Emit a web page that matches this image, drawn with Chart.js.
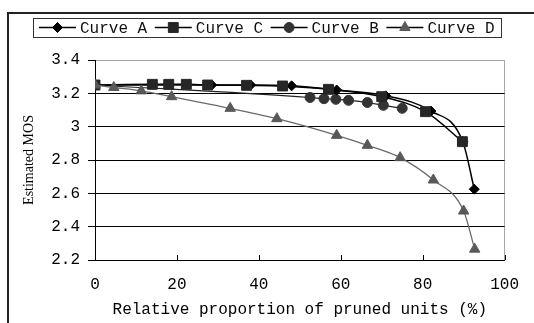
<!DOCTYPE html>
<html><head><meta charset="utf-8">
<script src="https://cdn.jsdelivr.net/npm/chart.js@4/dist/chart.umd.min.js"></script>
<style>
html,body{margin:0;padding:0;background:#fff;}
#wrap{position:relative;width:534px;height:323px;overflow:hidden;background:#fff;}
#frame{position:absolute;left:7px;top:12px;width:700px;height:500px;border-left:2px solid #222;border-top:2px solid #222;}
canvas{position:absolute;left:0;top:0;}
</style></head><body>
<div id="wrap"><div id="frame"></div><canvas id="c" width="534" height="323"></canvas></div>
<script>
// ---- data ----
const seriesNames = ['Curve A', 'Curve C', 'Curve B', 'Curve D'];
const curveAX = [0, 28.5, 38, 48, 59, 71, 82, 89.8, 92.6];
const curveAY = [3.25, 3.25, 3.25, 3.245, 3.22, 3.185, 3.094, 2.91, 2.625];
const curveCX = [0, 14, 18, 22.3, 27.5, 37, 45.8, 57, 70, 80.7, 89.7];
const curveCY = [3.25, 3.254, 3.254, 3.254, 3.25, 3.248, 3.244, 3.224, 3.18, 3.09, 2.91];
const curveBX = [0, 52.5, 55.9, 58.8, 61.9, 66.5, 70.4, 75.0];
const curveBY = [3.25, 3.175, 3.168, 3.164, 3.158, 3.145, 3.128, 3.11];
const curveDX = [0, 4.6, 11.3, 18.7, 33, 44.4, 59, 66.5, 74.5, 82.6, 90, 92.7];
const curveDY = [3.25, 3.235, 3.215, 3.18, 3.11, 3.048, 2.948, 2.888, 2.814, 2.68, 2.494, 2.265];
const xTicks = [0, 20, 40, 60, 80, 100];
const yTicks = [2.2, 2.4, 2.6, 2.8, 3, 3.2, 3.4];
const xTitle = 'Relative proportion of pruned units (%)';
const yTitle = 'Estimated MOS';

function pts(xs, ys) { return xs.map((x, i) => ({ x: x, y: ys[i] })); }

const MONO = '"Liberation Mono", "DejaVu Sans Mono", monospace';

const datasets = [
  { label: seriesNames[0], data: pts(curveAX, curveAY), borderColor: '#000', backgroundColor: '#000',
    pointStyle: 'rectRot', pointRadius: 5, borderWidth: 1.5, order: 2 },
  { label: seriesNames[1], data: pts(curveCX, curveCY), borderColor: '#000', backgroundColor: '#262626',
    pointBorderColor: '#262626', pointStyle: 'rect', pointRadius: 7, borderWidth: 1.5, order: 1 },
  { label: seriesNames[2], data: pts(curveBX, curveBY), borderColor: '#222', backgroundColor: '#333',
    pointBorderColor: '#333', pointStyle: 'circle', pointRadius: 5, borderWidth: 1.2, order: 3 },
  { label: seriesNames[3], data: pts(curveDX, curveDY), borderColor: '#6a6a6a', backgroundColor: '#595959',
    pointBorderColor: '#595959', pointStyle: 'triangle', pointRadius: 6, borderWidth: 1.3, order: 0 }
];
datasets.forEach(d => { d.cubicInterpolationMode = 'monotone'; d.pointBorderWidth = 1; d.fill = false; });

const decor = {
  id: 'decor',
  afterDraw(chart) {
    const ctx = chart.ctx, xs = chart.scales.x, area = chart.chartArea;
    ctx.save();
    // inward tick marks on x axis
    ctx.strokeStyle = '#000'; ctx.lineWidth = 1;
    xs.ticks.forEach(t => {
      if (t.value === xs.min) return;
      const px = Math.round(xs.getPixelForValue(t.value)) + 0.5;
      ctx.beginPath(); ctx.moveTo(px, area.bottom); ctx.lineTo(px, area.bottom - 5); ctx.stroke();
    });
    // legend box
    const bx = 33, by = 18, bw = 468, bh = 19, cy = 27.5, pitch = 115.8;
    ctx.strokeStyle = '#333'; ctx.lineWidth = 1;
    ctx.strokeRect(bx + 0.5, by + 0.5, bw, bh);
    chart.data.datasets.forEach((d, i) => {
      const x0 = 39 + i * pitch;
      ctx.strokeStyle = '#000'; ctx.lineWidth = 1.3;
      ctx.beginPath(); ctx.moveTo(x0, cy); ctx.lineTo(x0 + 37, cy); ctx.stroke();
      ctx.fillStyle = d.backgroundColor; ctx.strokeStyle = d.pointBorderColor || d.borderColor; ctx.lineWidth = 1;
      Chart.helpers.drawPoint(ctx, { pointStyle: d.pointStyle, radius: d.pointRadius, rotation: 0, borderWidth: 1 }, x0 + 18.5, cy);
      ctx.fillStyle = '#111'; ctx.font = '16px ' + MONO; ctx.textBaseline = 'middle'; ctx.textAlign = 'left';
      ctx.fillText(d.label, x0 + 41, cy + 1);
    });
    ctx.restore();
  }
};

new Chart(document.getElementById('c'), {
  type: 'line',
  data: { datasets: datasets },
  options: {
    responsive: false, animation: false, devicePixelRatio: 1,
    layout: { padding: { top: 60, left: 0, right: 24, bottom: 0 } },
    plugins: { legend: { display: false }, tooltip: { enabled: false } },
    scales: {
      x: {
        type: 'linear', min: 0, max: 100,
        afterBuildTicks: s => { s.ticks = xTicks.map(v => ({ value: v })); },
        afterFit: s => { s.height = 63; },
        ticks: { color: '#000', font: { family: MONO, size: 16 }, padding: 15, callback: v => String(v) },
        grid: { drawTicks: false, lineWidth: 1, color: c => (c.tick && c.tick.value === 100) ? '#a6a6a6' : 'rgba(0,0,0,0)' },
        border: { color: '#000', width: 1 },
        title: { display: true, text: xTitle, color: '#000', font: { family: MONO, size: 16 }, padding: { top: 0, bottom: 4 } }
      },
      y: {
        type: 'linear', min: 2.2, max: 3.4,
        afterBuildTicks: s => { s.ticks = yTicks.map(v => ({ value: v })); },
        afterFit: s => { s.width = 95; },
        ticks: { color: '#000', font: { family: MONO, size: 16 }, padding: 8, callback: v => String(v) },
        grid: { drawTicks: true, tickLength: 7, tickColor: '#000', lineWidth: 1, color: c => (c.tick && c.tick.value === 3.4) ? '#a6a6a6' : '#000' },
        border: { color: '#000', width: 1 },
        title: { display: true, text: yTitle, color: '#000', font: { family: '"Liberation Serif", serif', size: 14 }, padding: { top: 21, bottom: 0 } }
      }
    }
  },
  plugins: [decor]
});
</script>
</body></html>
